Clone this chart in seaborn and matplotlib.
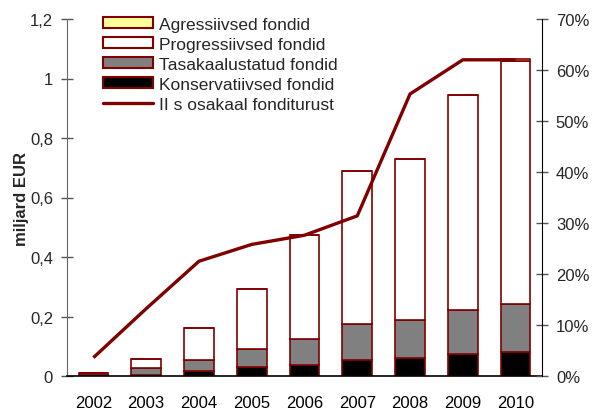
import numpy as np
import pandas as pd
import matplotlib
matplotlib.use("Agg")
import matplotlib.pyplot as plt
import seaborn as sns
from matplotlib.patches import Patch
from matplotlib.lines import Line2D
from matplotlib.ticker import FuncFormatter, MultipleLocator

years = ["2002", "2003", "2004", "2005", "2006", "2007", "2008", "2009", "2010"]
konservatiivsed = [0.005, 0.004, 0.017, 0.030, 0.038, 0.055, 0.059, 0.073, 0.080]
tasakaalustatud = [0.005, 0.023, 0.038, 0.062, 0.087, 0.120, 0.129, 0.148, 0.162]
progressiivsed = [0.001, 0.031, 0.106, 0.201, 0.348, 0.515, 0.542, 0.724, 0.818]
agressiivsed = [0.0, 0.0, 0.0, 0.0, 0.0, 0.0, 0.0, 0.0, 0.005]
osakaal = [3.6, 13.2, 22.5, 25.8, 27.6, 31.4, 55.3, 62.0, 62.0]

labels = ["Agressiivsed fondid", "Progressiivsed fondid", "Tasakaalustatud fondid",
          "Konservatiivsed fondid", "II s osakaal fonditurust"]

sns.set_style("white")
plt.rcParams["font.family"] = ["Liberation Sans", "DejaVu Sans"]

EDGE = "#800000"
fig = plt.figure(figsize=(5.97, 4.14), dpi=100)
ax = fig.add_axes([67 / 597, 1 - 377 / 414, (542 - 67) / 597, (377 - 20) / 414])

df = pd.DataFrame({"year": years, "k": konservatiivsed, "t": tasakaalustatud,
                   "p": progressiivsed, "a": agressiivsed})
b1 = np.zeros(len(years))
layers = [("k", "black"), ("t", "#808080"), ("p", "white"), ("a", "#FFFF99")]
for col, color in layers:
    sns.barplot(data=df, x="year", y=col, color=color, saturation=1, width=0.56,
                edgecolor=EDGE, linewidth=1.2, bottom=b1, ax=ax, zorder=2)
    b1 = b1 + df[col].values

ax.set_xlim(-0.5, 8.5)
ax.set_ylim(0, 1.2)
ax.set_xlabel("")
ax.set_ylabel("miljard EUR", fontsize=12, fontweight="bold", labelpad=1)
ax.yaxis.set_major_locator(MultipleLocator(0.2))
ax.yaxis.set_major_formatter(FuncFormatter(
    lambda v, p: "0" if abs(v) < 1e-9 else ("1" if abs(v - 1) < 1e-9 else f"{v:.1f}".replace(".", ","))))
ax.set_xticks(range(len(years)))
ax.set_xticklabels(years)
ax.set_xticks(np.arange(-0.5, 9, 1.0), minor=True)
ax.tick_params(axis="x", which="major", length=0, pad=14, labelsize=12, colors="black")
ax.tick_params(axis="x", which="minor", length=8, direction="inout", color="black", width=1)
ax.tick_params(axis="y", length=8, direction="inout", labelsize=12, pad=6, color="#555555", width=1)
for s in ["top", "right"]:
    ax.spines[s].set_visible(False)
ax.spines["left"].set_color("#666666")
ax.spines["bottom"].set_color("black")
ax.spines["bottom"].set_linewidth(1.2)

ax2 = ax.twinx()
sns.lineplot(x=np.arange(len(years)), y=osakaal, color=EDGE, linewidth=2.4, ax=ax2,
             solid_capstyle="butt", zorder=3)
ax2.set_ylim(0, 70)
ax2.yaxis.set_major_locator(MultipleLocator(10))
ax2.yaxis.set_major_formatter(FuncFormatter(lambda v, p: f"{v:.0f}%"))
ax2.tick_params(axis="y", length=8, direction="inout", labelsize=12, pad=6, color="#555555", width=1)
for s in ["top", "left", "bottom"]:
    ax2.spines[s].set_visible(False)
ax2.spines["right"].set_color("black")
ax2.set_xlim(-0.5, 8.5)

handles = [Patch(facecolor="#FFFF99", edgecolor=EDGE, linewidth=1.5),
           Patch(facecolor="white", edgecolor=EDGE, linewidth=1.5),
           Patch(facecolor="#808080", edgecolor=EDGE, linewidth=1.5),
           Patch(facecolor="black", edgecolor=EDGE, linewidth=1.5),
           Line2D([0], [0], color=EDGE, linewidth=2.4)]
leg = ax2.legend(handles, labels, loc="upper left", bbox_to_anchor=(103 / 597, 1 - 18 / 414),
                 bbox_transform=fig.transFigure, frameon=False, fontsize=12.5,
                 handlelength=2.9, handleheight=0.6, handletextpad=0.3, labelspacing=0.29,
                 borderpad=0, borderaxespad=0)

fig.savefig("out.png", dpi=100)
